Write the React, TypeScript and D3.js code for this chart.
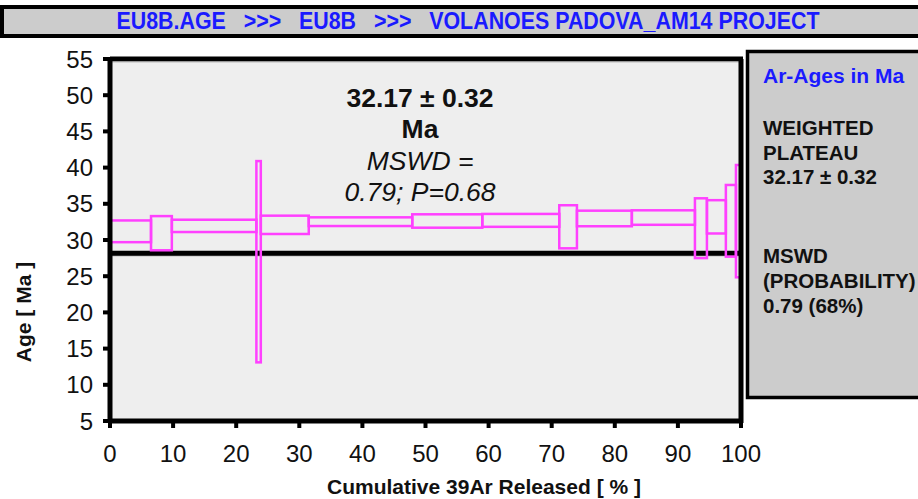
import React from "react";
import * as d3 from "d3";

// ---- Data ----
const stepEdges = [0, 6.5, 9.8, 23.2, 23.9, 31.5, 47.9, 59.0, 71.2, 74.0, 82.7, 92.7, 94.6, 97.6, 99.2, 100];
const ageHigh = [32.7, 33.3, 32.8, 40.9, 33.36, 33.13, 33.55, 33.6, 34.8, 34.05, 34.1, 35.76, 35.5, 37.6, 40.36];
const ageLow = [29.7, 28.58, 31.1, 13.1, 30.83, 31.93, 31.7, 31.82, 28.85, 31.9, 32.1, 27.5, 30.9, 27.7, 24.85];
const refLineAge = 28.16;
const xTicks = [0, 10, 20, 30, 40, 50, 60, 70, 80, 90, 100];
const yTicks = [5, 10, 15, 20, 25, 30, 35, 40, 45, 50, 55];
const titleText = "EU8B.AGE   >>>   EU8B   >>>   VOLANOES PADOVA_AM14 PROJECT";
const annotLines = ["32.17 ± 0.32", "Ma", "MSWD =", "0.79; P=0.68"];
const panelLines = ["WEIGHTED", "PLATEAU", "32.17 ± 0.32", "MSWD", "(PROBABILITY)", "0.79 (68%)"];
const panelBaselines = [135, 159.5, 184, 263, 288, 313];

const W = 918, H = 499;
const L = 110, R = 741, T = 59, B = 421;
const FONT = "Arial, 'Liberation Sans', Helvetica, sans-serif";
const PINK = "#ff40ff";

export default function App() {
  const x = d3.scaleLinear().domain([0, 100]).range([L, R]);
  const y = d3.scaleLinear().domain([5, 55]).range([B, T]);
  const steps = ageHigh.map((hi, i) => ({ x0: stepEdges[i], x1: stepEdges[i + 1], hi, lo: ageLow[i] }));

  return (
    <svg width={W} height={H} style={{ position: "absolute", left: 0, top: 0, background: "#fff" }} fontFamily={FONT}>
      {/* Title bar */}
      <rect x={2} y={7} width={W + 10} height={29} fill="#cccccc" stroke="#000" strokeWidth={4} />
      <text x={468} y={29} textAnchor="middle" fontSize={23} fontWeight="bold" fill="#1a1aff"
        textLength={703} lengthAdjust="spacingAndGlyphs" style={{ whiteSpace: "pre" }} xmlSpace="preserve">
        {titleText}
      </text>

      {/* Plot background */}
      <rect x={L} y={T} width={R - L} height={B - T} fill="#eeeeee" />

      {/* Right info panel */}
      <rect x={747.5} y={51.5} width={W} height={346} fill="#cccccc" stroke="#000" strokeWidth={3.5} />
      <text x={763} y={83} fontSize={21} fontWeight="bold" fill="#1a1aff">Ar-Ages in Ma</text>
      {panelLines.map((t, i) => (
        <text key={i} x={763} y={panelBaselines[i]} fontSize={20.5} fontWeight="bold" fill="#111">{t}</text>
      ))}

      {/* Reference line */}
      <line x1={L} x2={R} y1={y(refLineAge) + 2.5} y2={y(refLineAge) + 2.5} stroke="#bbb" strokeWidth={1.5} />
      <line x1={L} x2={R} y1={y(refLineAge)} y2={y(refLineAge)} stroke="#000" strokeWidth={5} />

      {/* Steps */}
      {steps.map((s, i) => (
        <rect key={i} x={x(s.x0)} y={y(s.hi)} width={x(s.x1) - x(s.x0)} height={y(s.lo) - y(s.hi)}
          fill="none" stroke={PINK} strokeWidth={2.5} />
      ))}

      {/* Frame */}
      <line x1={L} x2={R + 2} y1={T} y2={T} stroke="#000" strokeWidth={5} />
      <line x1={L} x2={R + 2} y1={T + 3} y2={T + 3} stroke="#bbb" strokeWidth={1} />
      <line x1={R} x2={R} y1={T} y2={B + 2} stroke="#000" strokeWidth={5} />
      <line x1={L} x2={L} y1={T - 2} y2={B + 2} stroke="#000" strokeWidth={5} />
      <line x1={L - 2} x2={R + 2} y1={B} y2={B} stroke="#000" strokeWidth={5} />

      {/* Y ticks */}
      {yTicks.map((t) => (
        <g key={t}>
          <line x1={L - 7} x2={L} y1={y(t)} y2={y(t)} stroke="#000" strokeWidth={4} />
          <text x={93} y={y(t) + 8.5} textAnchor="end" fontSize={24} fill="#111">{t}</text>
        </g>
      ))}
      {/* X ticks */}
      {xTicks.map((t) => (
        <g key={t}>
          <line x1={x(t)} x2={x(t)} y1={B} y2={B + 7} stroke="#000" strokeWidth={4} />
          <text x={x(t)} y={462} textAnchor="middle" fontSize={24} fill="#111">{t}</text>
        </g>
      ))}

      {/* Axis titles */}
      <text x={484} y={494} textAnchor="middle" fontSize={21} fontWeight="bold" fill="#111">Cumulative 39Ar Released [ % ]</text>
      <text transform={`translate(31,312) rotate(-90)`} textAnchor="middle" fontSize={21} fontWeight="bold" fill="#111">Age [ Ma ]</text>

      {/* Annotation */}
      <text x={420} y={107} textAnchor="middle" fontSize={26.5} fontWeight="bold" fill="#111">{annotLines[0]}</text>
      <text x={420} y={138} textAnchor="middle" fontSize={26.5} fontWeight="bold" fill="#111">{annotLines[1]}</text>
      <text x={420} y={170} textAnchor="middle" fontSize={26.5} fontStyle="italic" fill="#111">{annotLines[2]}</text>
      <text x={420} y={201} textAnchor="middle" fontSize={26.5} fontStyle="italic" fill="#111">{annotLines[3]}</text>
    </svg>
  );
}
